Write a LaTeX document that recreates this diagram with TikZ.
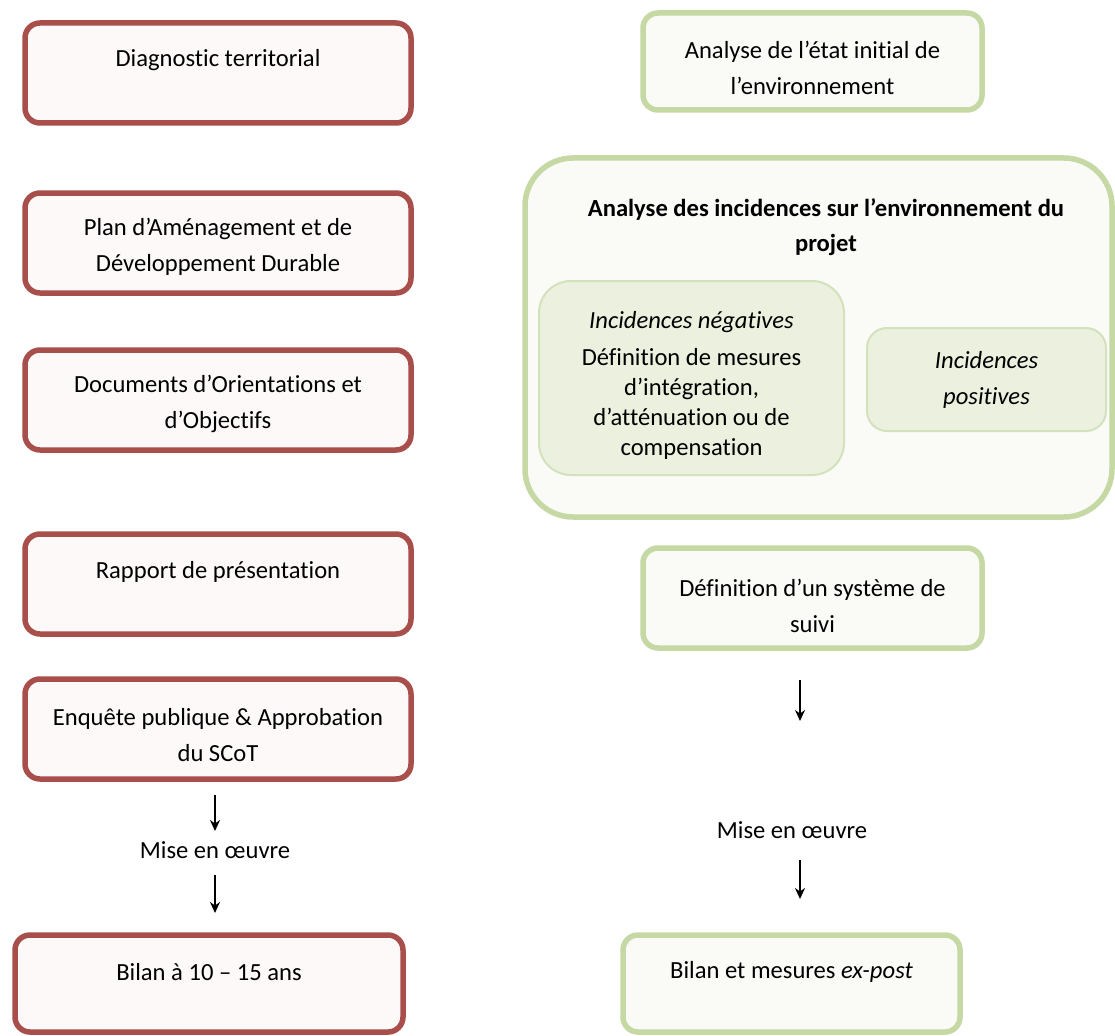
\documentclass[tikz,border=0pt]{standalone}
\usepackage{fontspec}
\setmainfont{Carlito}[Ligatures=CommonOff]
\usetikzlibrary{arrows.meta}
\definecolor{redc}{HTML}{A84F4B}
\definecolor{redfill}{HTML}{FDF9F9}
\definecolor{greenc}{HTML}{C6D8A3}
\definecolor{greenfill}{HTML}{FAFAF7}
\definecolor{innerc}{HTML}{D3E2BC}
\definecolor{innerfill}{HTML}{EBF1DE}
\tikzset{
  redbox/.style={draw=redc, line width=5.5pt, fill=redfill, rounded corners=15pt, inner sep=0pt},
  greenbox/.style={draw=greenc, line width=5.5pt, fill=greenfill, rounded corners=15pt, inner sep=0pt},
  innerbox/.style={draw=innerc, line width=2pt, fill=innerfill, inner sep=0pt},
  txt/.style={font=\fontsize{24.6}{36}\selectfont, align=center, inner sep=0pt},
  itxt/.style={font=\fontsize{24.6}{30}\selectfont, align=center, inner sep=0pt},
  arr/.style={line width=1.8pt, -{Stealth[length=11pt,width=10pt]}}
}
\begin{document}
\begin{tikzpicture}[x=1pt,y=-1pt]
\useasboundingbox (0,0) rectangle (1115,1035);
% left column
\node[redbox, minimum width=386pt, minimum height=100pt] (r1) at (218,73) {};
\node[txt] (t1) at (218,60) {Diagnostic territorial};
\node[redbox, minimum width=386pt, minimum height=100pt] (r2) at (218,243) {};
\node[txt] (t2) at (218,247) {Plan d’Aménagement et de\\Développement Durable};
\node[redbox, minimum width=386pt, minimum height=100pt] (r3) at (218,400) {};
\node[txt] (t3) at (218,404) {Documents d’Orientations et\\d’Objectifs};
\node[redbox, minimum width=386pt, minimum height=100pt] (r4) at (218,584) {};
\node[txt] (t4) at (218,572) {Rapport de présentation};
\node[redbox, minimum width=386pt, minimum height=100pt] (r5) at (218,729) {};
\node[txt] (t5) at (218,735) {Enquête publique \& Approbation\\du SCoT};
\node[txt] (m1) at (215,850) {Mise en œuvre};
\coordinate (a1s) at (215,795);
\coordinate (a1e) at (215,831);
\coordinate (a2s) at (215,875);
\coordinate (a2e) at (215,913);
\draw[arr] (a1s) -- (a1e);
\draw[arr] (a2s) -- (a2e);
\node[redbox, minimum width=388pt, minimum height=97pt] (r6) at (209,983.5) {};
\node[txt] (t6) at (209,972) {Bilan à 10 – 15 ans};
% right column
\node[greenbox, minimum width=339pt, minimum height=97pt] (g1) at (812.5,61.5) {};
\node[txt] (u1) at (812.5,68) {Analyse de l’état initial de\\l’environnement};
\node[greenbox, rounded corners=48pt, minimum width=587pt, minimum height=359pt] (g2) at (818.5,337.5) {};
\node[txt, font=\fontsize{24.6}{35}\selectfont\bfseries] (u2) at (826,227.5) {Analyse des incidences sur l’environnement du\\projet};
\node[innerbox, rounded corners=32pt, minimum width=305pt, minimum height=194pt] (n1) at (691.5,378) {};
\node[txt, font=\fontsize{24.6}{30}\selectfont\itshape] (n1t) at (691.5,322) {Incidences négatives};
\node[itxt] (n1b) at (691.5,403.5) {Définition de mesures\\d’intégration,\\d’atténuation ou de\\compensation};
\node[innerbox, rounded corners=20pt, minimum width=239pt, minimum height=103pt] (p1) at (986.5,379.5) {};
\node[txt, font=\fontsize{24.6}{36}\selectfont\itshape] (p1t) at (986.5,380) {Incidences\\positives};
\node[greenbox, minimum width=339pt, minimum height=100pt] (g3) at (812.5,598) {};
\node[txt] (u3) at (812.5,606) {Définition d’un système de\\suivi};
\coordinate (b1s) at (800,680);
\coordinate (b1e) at (800,721);
\draw[arr] (b1s) -- (b1e);
\node[txt] (m2) at (792,830) {Mise en œuvre};
\coordinate (b2s) at (800,860);
\coordinate (b2e) at (800,899);
\draw[arr] (b2s) -- (b2e);
\node[greenbox, minimum width=337pt, minimum height=97pt] (g4) at (791.5,983.5) {};
\node[txt] (u4) at (791.5,972) {Bilan et mesures \textit{ex-post}};
\end{tikzpicture}
\end{document}
